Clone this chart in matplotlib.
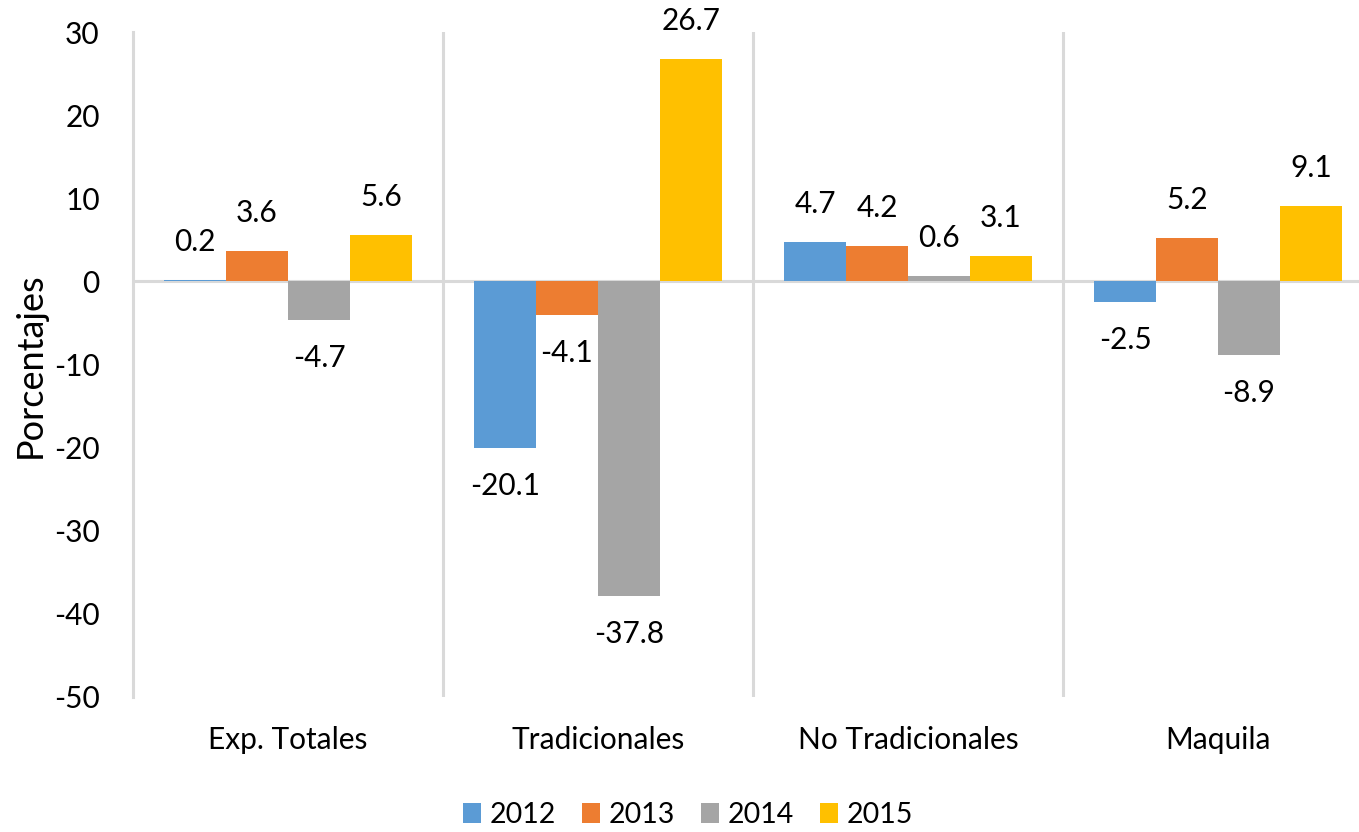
import numpy as np
import matplotlib.pyplot as plt

plt.rcParams['font.family'] = ['Lato', 'DejaVu Sans']

# export growth by category and year
categories = ['Exp. Totales', 'Tradicionales', 'No Tradicionales', 'Maquila']
years = ['2012', '2013', '2014', '2015']
v2012 = [0.2, -20.1, 4.7, -2.5]
v2013 = [3.6, -4.1, 4.2, 5.2]
v2014 = [-4.7, -37.8, 0.6, -8.9]
v2015 = [5.6, 26.7, 3.1, 9.1]
series = [v2012, v2013, v2014, v2015]
colors = ['#5B9BD5', '#ED7D31', '#A5A5A5', '#FFC000']

fig = plt.figure(figsize=(13.59, 8.32), dpi=100)
W, H = 1359, 832
left, right, top, bottom = 133, 1373, 32, 697
ax = fig.add_axes([left / W, 1 - bottom / H, (right - left) / W, (bottom - top) / H])

x = np.arange(len(categories))
bw = 0.2
grid_c = '#D9D9D9'

for i, (vals, col) in enumerate(zip(series, colors)):
    pos = x + (i - 1.5) * bw
    ax.bar(pos, vals, width=bw * 0.99, color=col, linewidth=0,
           label=years[i], zorder=3)
    for px, v in zip(pos, vals):
        off = 38 if v >= 0 else -38
        ax.annotate(f'{v:.1f}', (px, v), xytext=(0, off), textcoords='offset pixels',
                    ha='center', va='center', fontsize=21.5, color='#000000')

# category separators and zero line
for b in np.arange(0.5, len(categories) - 0.5, 1):
    ax.axvline(b, color=grid_c, lw=2.2, zorder=1)
ax.axhline(0, color=grid_c, lw=2.2, zorder=2)

ax.set_xlim(-0.5, len(categories) - 0.5)
ax.set_ylim(-50, 30)
ax.set_yticks(np.arange(-50, 31, 10))
ax.set_xticks(x)
ax.set_xticklabels(categories)
ax.tick_params(axis='both', length=0, labelsize=21.5, colors='#000000')
ax.tick_params(axis='y', pad=24)
ax.tick_params(axis='x', pad=21)
ax.set_yticklabels([str(t) for t in range(-50, 31, 10)], ha='right')

for s in ['top', 'right', 'bottom']:
    ax.spines[s].set_visible(False)
ax.spines['left'].set_color(grid_c)
ax.spines['left'].set_linewidth(2.2)

fig.text(30 / W, 1 - 365 / H, 'Porcentajes', rotation=90, ha='center', va='center',
         fontsize=26)

fig.legend(loc='center', bbox_to_anchor=(688 / W, 1 - 815 / H), ncol=4, frameon=False,
           fontsize=20.5, handlelength=0.65, handleheight=0.65, handletextpad=0.3,
           columnspacing=0.9)

fig.savefig('out.png', dpi=100)
